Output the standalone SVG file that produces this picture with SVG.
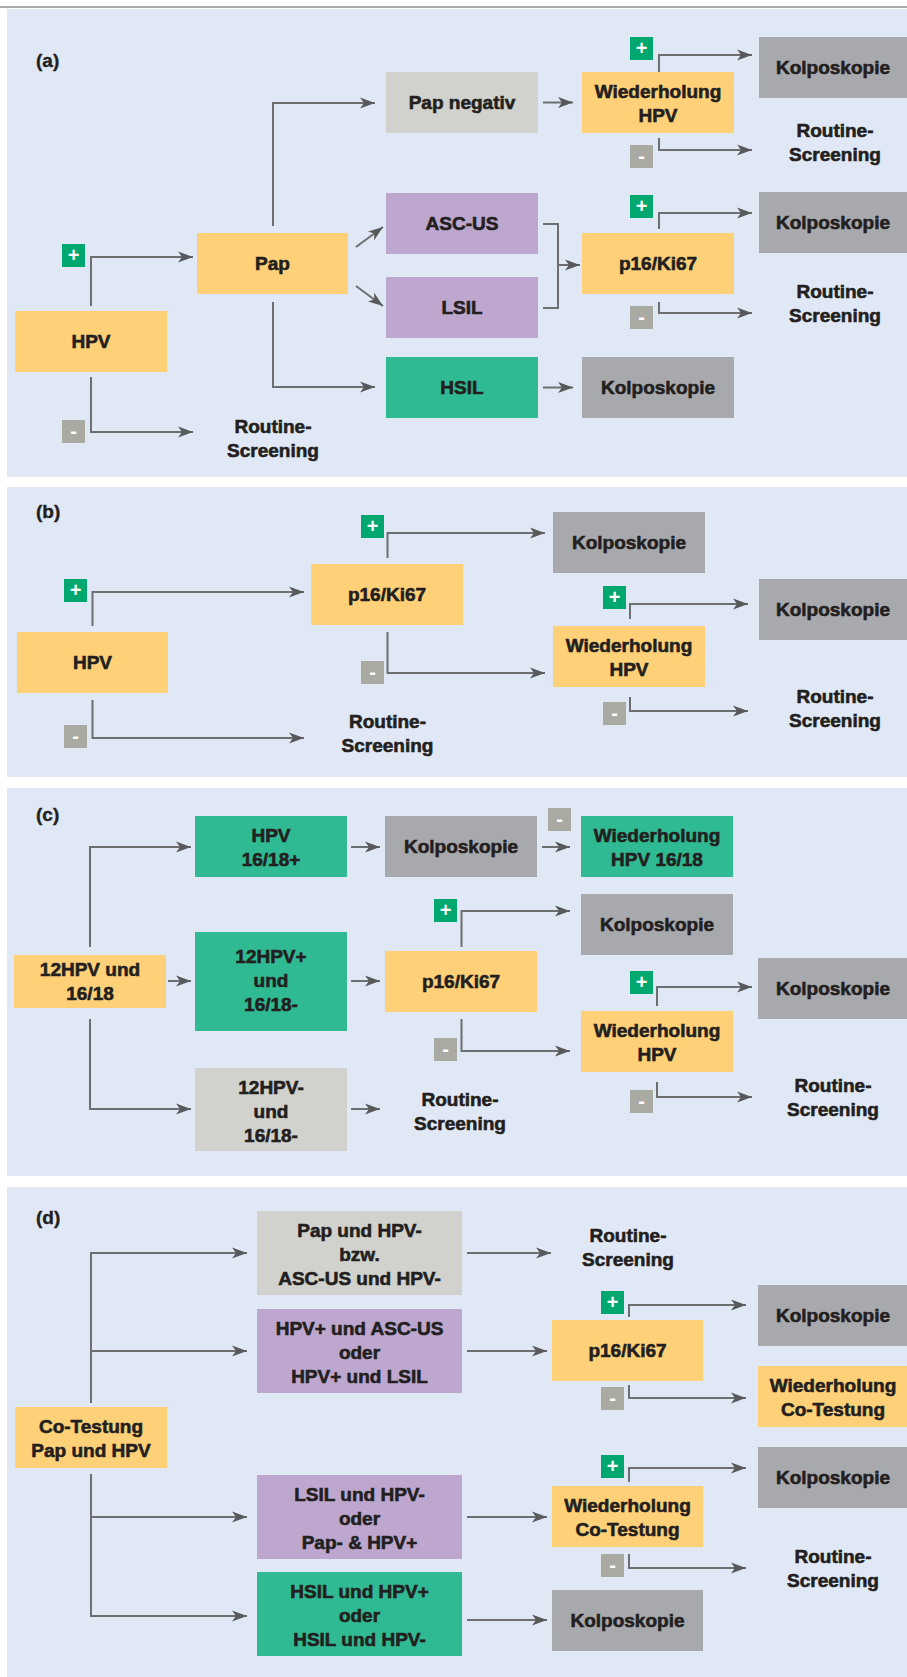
<svg xmlns="http://www.w3.org/2000/svg" width="907" height="1677" viewBox="0 0 907 1677">
<style>
.bg{fill:#e1e8f5}
.y{fill:#fed077}.lg{fill:#d1d2cd}.dg{fill:#a8a9ac}.pu{fill:#bda7cf}.gr{fill:#2fba93}
.t{font-family:"Liberation Sans",Arial,sans-serif;font-weight:bold;font-size:19px;fill:#231f20;stroke:#231f20;stroke-width:0.6;text-anchor:middle}
.lbl{font-family:"Liberation Sans",Arial,sans-serif;font-weight:bold;font-size:19px;fill:#231f20;stroke:#231f20;stroke-width:0.4}
.bp{fill:#00a86f}.bm{fill:#a9aaa1}
.bt{font-family:"Liberation Sans",Arial,sans-serif;font-weight:bold;font-size:20px;fill:#fff;text-anchor:middle}
.c path{fill:none;stroke:#6d6e70;stroke-width:2}
.c .a{marker-end:url(#ah)}
</style>
<defs>
<marker id="ah" markerWidth="16" markerHeight="12" refX="15" refY="6" orient="auto" markerUnits="userSpaceOnUse">
<path d="M0,0.5 L15,6 L0,11.5 L4,6 Z" fill="#58595b"/>
</marker>
</defs>
<rect x="0" y="0" width="907" height="1677" fill="#fff"/>
<line x1="0" y1="7" x2="907" y2="7" stroke="#a9a9a9" stroke-width="2"/>
<rect class="bg" x="7" y="9" width="900" height="468"/>
<rect class="bg" x="7" y="487" width="900" height="290"/>
<rect class="bg" x="7" y="788" width="900" height="388"/>
<rect class="bg" x="7" y="1187" width="900" height="490"/>

<!-- Panel a -->
<text class="lbl" x="36" y="67">(a)</text>
<g id="a-hpv"><rect class="y" x="15" y="311" width="152" height="61"/><text class="t" x="91" y="348">HPV</text></g>
<g id="a-pap"><rect class="y" x="197" y="233" width="151" height="61"/><text class="t" x="272.5" y="270">Pap</text></g>
<g id="a-papneg"><rect class="lg" x="386" y="72" width="152" height="61"/><text class="t" x="462" y="109">Pap negativ</text></g>
<g id="a-ascus"><rect class="pu" x="386" y="193" width="152" height="61"/><text class="t" x="462" y="230">ASC-US</text></g>
<g id="a-lsil"><rect class="pu" x="386" y="277" width="152" height="61"/><text class="t" x="462" y="314">LSIL</text></g>
<g id="a-hsil"><rect class="gr" x="386" y="357" width="152" height="61"/><text class="t" x="462" y="394">HSIL</text></g>
<g id="a-wdh"><rect class="y" x="582" y="72" width="152" height="61"/><text class="t" x="658" y="97.5">Wiederholung</text><text class="t" x="658" y="121.5">HPV</text></g>
<g id="a-p16"><rect class="y" x="582" y="233" width="152" height="61"/><text class="t" x="658" y="270">p16/Ki67</text></g>
<g id="a-kolpo3"><rect class="dg" x="582" y="357" width="152" height="61"/><text class="t" x="658" y="394">Kolposkopie</text></g>
<g id="a-kolpo1"><rect class="dg" x="759" y="37" width="148" height="61"/><text class="t" x="833" y="74">Kolposkopie</text></g>
<g id="a-rs1"><text class="t" x="835" y="137">Routine-</text><text class="t" x="835" y="161">Screening</text></g>
<g id="a-kolpo2"><rect class="dg" x="759" y="192" width="148" height="61"/><text class="t" x="833" y="229">Kolposkopie</text></g>
<g id="a-rs2"><text class="t" x="835" y="298">Routine-</text><text class="t" x="835" y="322">Screening</text></g>
<g id="a-rs0"><text class="t" x="273" y="433">Routine-</text><text class="t" x="273" y="457">Screening</text></g>
<g id="a-badges">
<rect class="bp" x="62" y="244" width="23" height="23"/><text class="bt" x="73.5" y="262">+</text>
<rect class="bm" x="62" y="420" width="23" height="23"/><text class="bt" x="73.5" y="438">-</text>
<rect class="bp" x="630" y="37" width="23" height="23"/><text class="bt" x="641.5" y="55">+</text>
<rect class="bm" x="630" y="145" width="23" height="23"/><text class="bt" x="641.5" y="163">-</text>
<rect class="bp" x="630" y="195" width="23" height="23"/><text class="bt" x="641.5" y="213">+</text>
<rect class="bm" x="630" y="306" width="23" height="23"/><text class="bt" x="641.5" y="324">-</text>
</g>

<!-- Panel b -->
<text class="lbl" x="36" y="518">(b)</text>
<g id="b-hpv"><rect class="y" x="17" y="632" width="151" height="61"/><text class="t" x="92.5" y="669">HPV</text></g>
<g id="b-p16"><rect class="y" x="311" y="564" width="152" height="61"/><text class="t" x="387" y="601">p16/Ki67</text></g>
<g id="b-kolpo1"><rect class="dg" x="553" y="512" width="152" height="61"/><text class="t" x="629" y="549">Kolposkopie</text></g>
<g id="b-wdh"><rect class="y" x="553" y="626" width="152" height="61"/><text class="t" x="629" y="651.5">Wiederholung</text><text class="t" x="629" y="675.5">HPV</text></g>
<g id="b-kolpo2"><rect class="dg" x="759" y="579" width="148" height="61"/><text class="t" x="833" y="616">Kolposkopie</text></g>
<g id="b-rs1"><text class="t" x="835" y="703">Routine-</text><text class="t" x="835" y="727">Screening</text></g>
<g id="b-rs0"><text class="t" x="387.5" y="728">Routine-</text><text class="t" x="387.5" y="752">Screening</text></g>
<g id="b-badges">
<rect class="bp" x="361" y="515" width="23" height="23"/><text class="bt" x="372.5" y="533">+</text>
<rect class="bp" x="64" y="579" width="23" height="23"/><text class="bt" x="75.5" y="597">+</text>
<rect class="bp" x="603" y="586" width="23" height="23"/><text class="bt" x="614.5" y="604">+</text>
<rect class="bm" x="361" y="661" width="23" height="23"/><text class="bt" x="372.5" y="679">-</text>
<rect class="bm" x="603" y="702" width="23" height="23"/><text class="bt" x="614.5" y="720">-</text>
<rect class="bm" x="64" y="725" width="23" height="23"/><text class="bt" x="75.5" y="743">-</text>
</g>

<!-- Panel c -->
<text class="lbl" x="36" y="821">(c)</text>
<g id="c-start"><rect class="y" x="14" y="955" width="152" height="53"/><text class="t" x="90" y="976">12HPV und</text><text class="t" x="90" y="1000">16/18</text></g>
<g id="c-hpv1618"><rect class="gr" x="195" y="816" width="152" height="61"/><text class="t" x="271" y="841.5">HPV</text><text class="t" x="271" y="865.5">16/18+</text></g>
<g id="c-kolpo1"><rect class="dg" x="385" y="816" width="152" height="61"/><text class="t" x="461" y="853">Kolposkopie</text></g>
<g id="c-wdh1618"><rect class="gr" x="581" y="816" width="152" height="61"/><text class="t" x="657" y="841.5">Wiederholung</text><text class="t" x="657" y="865.5">HPV 16/18</text></g>
<g id="c-12pos"><rect class="gr" x="195" y="932" width="152" height="99"/><text class="t" x="271" y="962.5">12HPV+</text><text class="t" x="271" y="986.5">und</text><text class="t" x="271" y="1010.5">16/18-</text></g>
<g id="c-p16"><rect class="y" x="385" y="951" width="152" height="61"/><text class="t" x="461" y="988">p16/Ki67</text></g>
<g id="c-kolpo2"><rect class="dg" x="581" y="894" width="152" height="61"/><text class="t" x="657" y="931">Kolposkopie</text></g>
<g id="c-wdh"><rect class="y" x="581" y="1011" width="152" height="61"/><text class="t" x="657" y="1036.5">Wiederholung</text><text class="t" x="657" y="1060.5">HPV</text></g>
<g id="c-kolpo3"><rect class="dg" x="758" y="958" width="149" height="61"/><text class="t" x="833" y="995">Kolposkopie</text></g>
<g id="c-rs1"><text class="t" x="833" y="1092">Routine-</text><text class="t" x="833" y="1116">Screening</text></g>
<g id="c-12neg"><rect class="lg" x="195" y="1068" width="152" height="83"/><text class="t" x="271" y="1094">12HPV-</text><text class="t" x="271" y="1118">und</text><text class="t" x="271" y="1142">16/18-</text></g>
<g id="c-rs0"><text class="t" x="460" y="1106">Routine-</text><text class="t" x="460" y="1130">Screening</text></g>
<g id="c-badges">
<rect class="bm" x="548" y="808" width="23" height="23"/><text class="bt" x="559.5" y="826">-</text>
<rect class="bp" x="434" y="899" width="23" height="23"/><text class="bt" x="445.5" y="917">+</text>
<rect class="bm" x="434" y="1038" width="23" height="23"/><text class="bt" x="445.5" y="1056">-</text>
<rect class="bp" x="630" y="971" width="23" height="23"/><text class="bt" x="641.5" y="989">+</text>
<rect class="bm" x="630" y="1090" width="23" height="23"/><text class="bt" x="641.5" y="1108">-</text>
</g>

<!-- Panel d -->
<text class="lbl" x="36" y="1224">(d)</text>
<g id="d-start"><rect class="y" x="15" y="1407" width="152" height="61"/><text class="t" x="91" y="1432.5">Co-Testung</text><text class="t" x="91" y="1456.5">Pap und HPV</text></g>
<g id="d-papneg"><rect class="lg" x="257" y="1211" width="205" height="84"/><text class="t" x="359.5" y="1237">Pap und HPV-</text><text class="t" x="359.5" y="1261">bzw.</text><text class="t" x="359.5" y="1285">ASC-US und HPV-</text></g>
<g id="d-rs0"><text class="t" x="628" y="1242">Routine-</text><text class="t" x="628" y="1266">Screening</text></g>
<g id="d-ascus"><rect class="pu" x="257" y="1309" width="205" height="84"/><text class="t" x="359.5" y="1335">HPV+ und ASC-US</text><text class="t" x="359.5" y="1359">oder</text><text class="t" x="359.5" y="1383">HPV+ und LSIL</text></g>
<g id="d-p16"><rect class="y" x="552" y="1320" width="151" height="61"/><text class="t" x="627.5" y="1357">p16/Ki67</text></g>
<g id="d-kolpo1"><rect class="dg" x="758" y="1285" width="149" height="61"/><text class="t" x="833" y="1322">Kolposkopie</text></g>
<g id="d-wdh1"><rect class="y" x="758" y="1366" width="149" height="61"/><text class="t" x="833" y="1391.5">Wiederholung</text><text class="t" x="833" y="1415.5">Co-Testung</text></g>
<g id="d-lsil"><rect class="pu" x="257" y="1475" width="205" height="84"/><text class="t" x="359.5" y="1501">LSIL und HPV-</text><text class="t" x="359.5" y="1525">oder</text><text class="t" x="359.5" y="1549">Pap- &amp; HPV+</text></g>
<g id="d-wdh2"><rect class="y" x="552" y="1486" width="151" height="61"/><text class="t" x="627.5" y="1511.5">Wiederholung</text><text class="t" x="627.5" y="1535.5">Co-Testung</text></g>
<g id="d-kolpo2"><rect class="dg" x="758" y="1447" width="149" height="61"/><text class="t" x="833" y="1484">Kolposkopie</text></g>
<g id="d-rs1"><text class="t" x="833" y="1563">Routine-</text><text class="t" x="833" y="1587">Screening</text></g>
<g id="d-hsil"><rect class="gr" x="257" y="1572" width="205" height="84"/><text class="t" x="359.5" y="1598">HSIL und HPV+</text><text class="t" x="359.5" y="1622">oder</text><text class="t" x="359.5" y="1646">HSIL und HPV-</text></g>
<g id="d-kolpo3"><rect class="dg" x="552" y="1590" width="151" height="61"/><text class="t" x="627.5" y="1627">Kolposkopie</text></g>
<g id="d-badges">
<rect class="bp" x="601" y="1291" width="23" height="23"/><text class="bt" x="612.5" y="1309">+</text>
<rect class="bm" x="601" y="1387" width="23" height="23"/><text class="bt" x="612.5" y="1405">-</text>
<rect class="bp" x="601" y="1455" width="23" height="23"/><text class="bt" x="612.5" y="1473">+</text>
<rect class="bm" x="601" y="1554" width="23" height="23"/><text class="bt" x="612.5" y="1572">-</text>
</g>

<g id="connectors" class="c">
<!-- a -->
<path class="a" d="M91,306 V257 H193"/>
<path class="a" d="M91,377 V432 H193"/>
<path class="a" d="M273,226 V103 H375"/>
<path class="a" d="M273,302 V387 H375"/>
<path class="a" d="M356,247 L383,227"/>
<path class="a" d="M356,286 L383,306"/>
<path class="a" d="M543,102.5 H573"/>
<path class="a" d="M543,387.5 H573"/>
<path d="M543,224 H558 V308 H543"/>
<path class="a" d="M558,265 H580"/>
<path class="a" d="M659,72 V55 H752"/>
<path class="a" d="M659,138 V150 H752"/>
<path class="a" d="M659,229 V213 H752"/>
<path class="a" d="M659,302 V313 H752"/>
<!-- b -->
<path class="a" d="M387.5,558 V533 H545"/>
<path class="a" d="M92.5,626 V592 H304"/>
<path class="a" d="M630,619 V604 H748"/>
<path class="a" d="M387.5,632 V673 H545"/>
<path class="a" d="M630,697 V711 H748"/>
<path class="a" d="M92.5,700 V738 H304"/>
<!-- c -->
<path class="a" d="M90,947 V847 H191"/>
<path class="a" d="M351,847 H380"/>
<path class="a" d="M542,847 H570"/>
<path class="a" d="M168,981 H191"/>
<path class="a" d="M351,981 H380"/>
<path class="a" d="M461.5,947 V911 H570"/>
<path class="a" d="M461.5,1019 V1051 H570"/>
<path class="a" d="M657,1006 V987 H752"/>
<path class="a" d="M657,1082 V1097 H752"/>
<path class="a" d="M90,1019 V1109 H191"/>
<path class="a" d="M351,1109 H380"/>
<!-- d -->
<path class="a" d="M91,1403 V1253 H247"/>
<path class="a" d="M91,1351 H247"/>
<path class="a" d="M91,1474 V1616 H247"/>
<path class="a" d="M91,1517 H247"/>
<path class="a" d="M467,1253 H551"/>
<path class="a" d="M467,1351 H547"/>
<path class="a" d="M467,1517 H547"/>
<path class="a" d="M467,1620 H547"/>
<path class="a" d="M629,1317 V1305 H746"/>
<path class="a" d="M629,1385 V1398 H746"/>
<path class="a" d="M629,1482 V1468 H746"/>
<path class="a" d="M629,1554 V1568 H746"/>
</g>
</svg>
